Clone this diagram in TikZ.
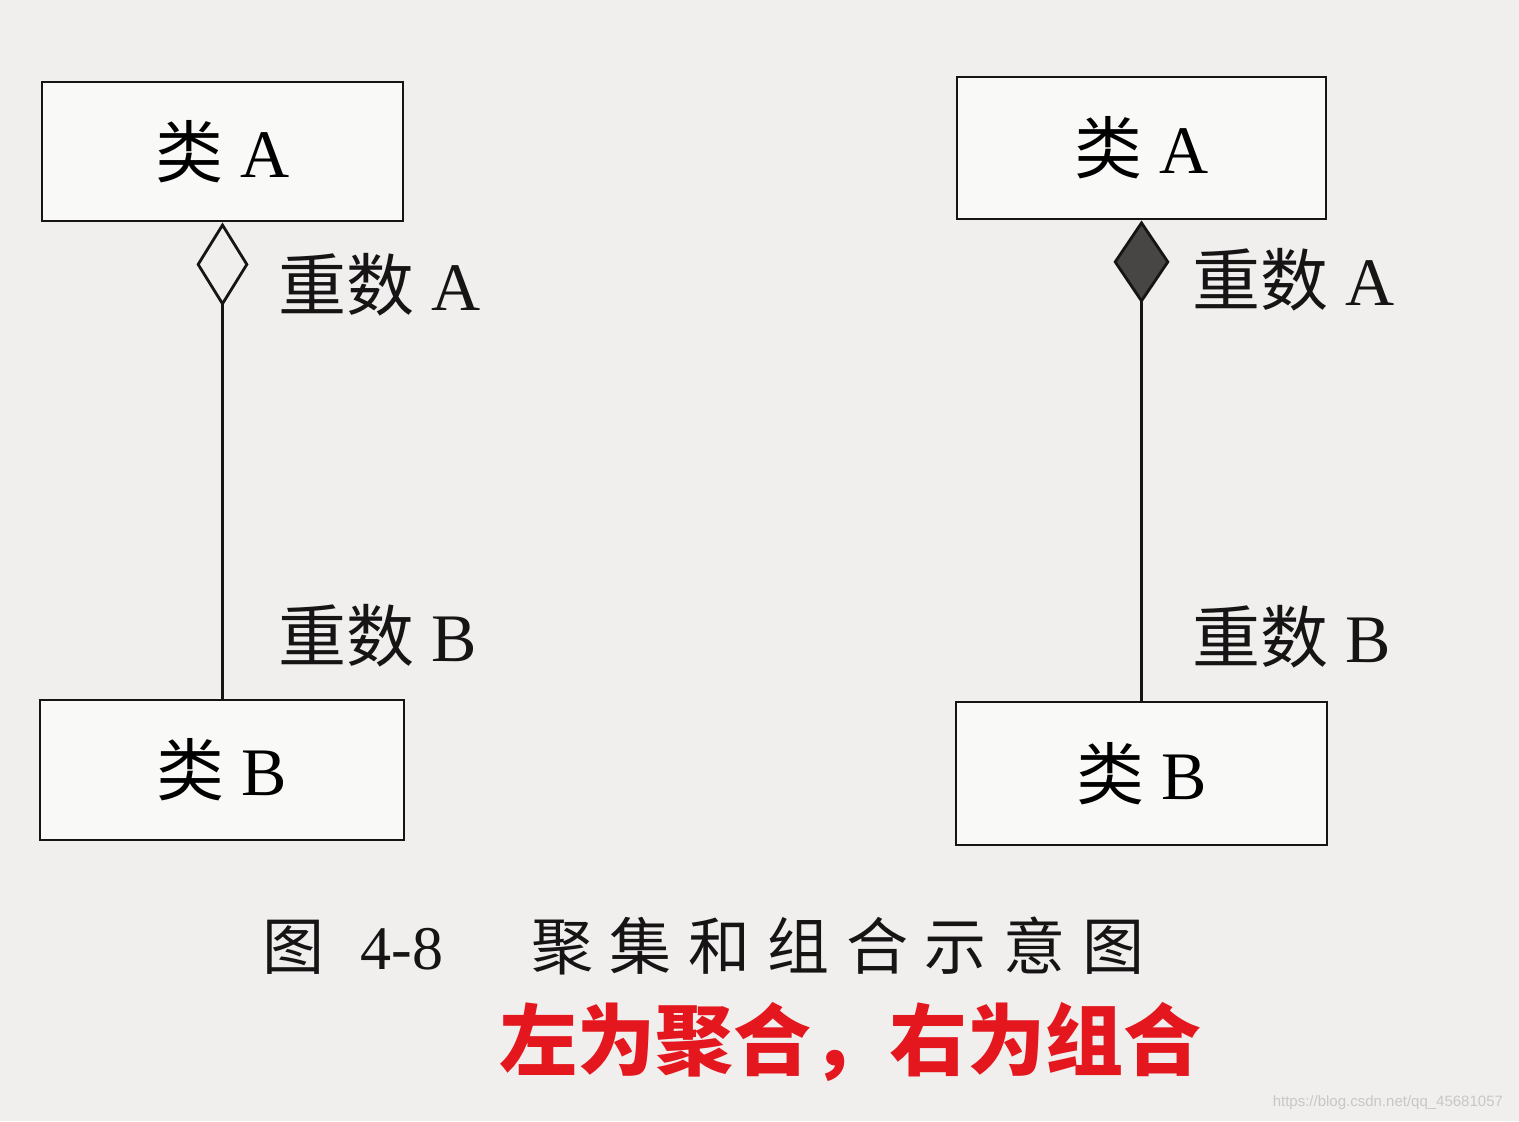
\documentclass[tikz,border=0pt]{standalone}
\usepackage{fontspec}
\setmainfont{Liberation Serif}
\setsansfont{Liberation Sans}
\newfontfamily\cjk{Noto Sans CJK SC}
\newfontfamily\cjkcap[LetterSpace=27]{Noto Sans CJK SC}
\usetikzlibrary{arrows.meta}
\definecolor{paper}{RGB}{240,239,238}
\definecolor{ink}{RGB}{22,20,20}
\definecolor{penred}{RGB}{228,22,30}
\definecolor{diafill}{RGB}{72,70,68}

\begin{document}
\begin{tikzpicture}[
  x=0.5pt,y=-0.5pt,
  cls/.style={draw=ink,line width=1.4pt,fill=white!60!paper,inner sep=0pt,
    font=\fontsize{34pt}{36pt}\selectfont},
  mult/.style={anchor=west,inner sep=0pt,text=ink,font=\fontsize{34pt}{36pt}\selectfont},
  agg/.style={{Diamond[open,length=42pt,width=26pt]}-,line width=1.4pt,draw=ink},
  comp/.style={{Diamond[length=41.5pt,width=28pt,fill=diafill]}-,line width=1.4pt,draw=ink}
]
  \fill[paper] (0,0) rectangle (1519,1121);

  \node[cls,minimum width=180.5pt,minimum height=69.5pt] (lA) at (222.5,151.5) {{\cjk 类} A};
  \node[cls,minimum width=182pt,minimum height=70pt] (lB) at (222,770) {{\cjk 类} B};
  \node[cls,minimum width=184.5pt,minimum height=71pt] (rA) at (1141.5,148) {{\cjk 类} A};
  \node[cls,minimum width=185.5pt,minimum height=71.5pt] (rB) at (1141.5,773.5) {{\cjk 类} B};

  \draw[agg] (lA.south) -- (lA.south |- lB.north);
  \draw[comp] (rA.south) -- (rA.south |- rB.north);

  \node[mult] (lmA) at (278,285) {{\cjk 重数} A};
  \node[mult] (lmB) at (278,636) {{\cjk 重数} B};
  \node[mult] (rmA) at (1192,280) {{\cjk 重数} A};
  \node[mult] (rmB) at (1192,637) {{\cjk 重数} B};

  \node[anchor=west,inner sep=0pt,text=ink,font=\fontsize{31pt}{33pt}\selectfont] (cap) at (262,946)
    {{\cjk 图}\hspace{18pt}4-8\hspace{44pt}{\cjkcap 聚集和组合示意图}};
  \node[text=penred,font=\fontsize{39pt}{41pt}\selectfont\cjk\bfseries] (note) at (850,1042)
    {左为聚合，右为组合};
  \node[anchor=east,text=black!22,font=\sffamily\fontsize{7.5pt}{8pt}\selectfont] (wm) at (1510,1103)
    {https://blog.csdn.net/qq\_45681057};
\end{tikzpicture}
\end{document}
